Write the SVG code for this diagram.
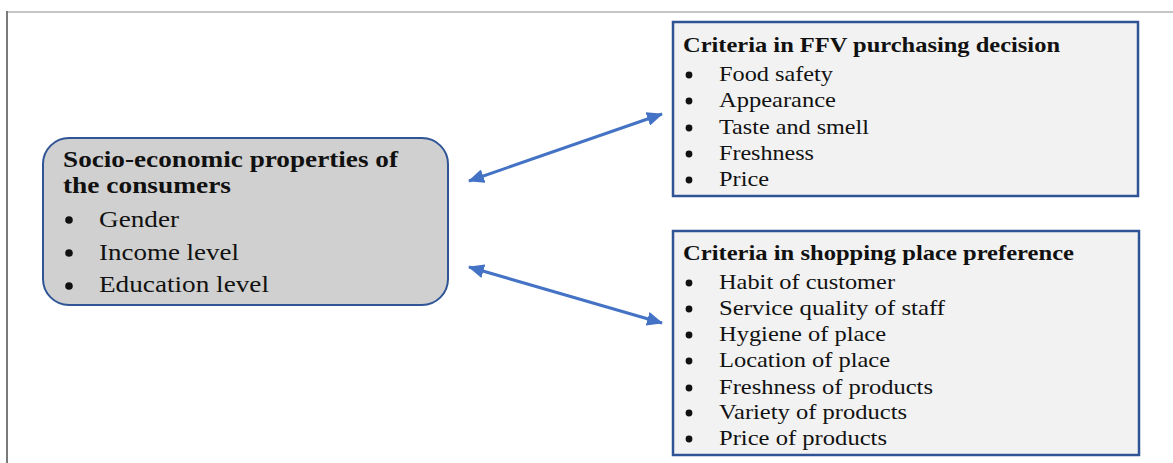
<svg xmlns="http://www.w3.org/2000/svg" width="1173" height="463" viewBox="0 0 1173 463">
  <style>
    .serif { font-family: "Liberation Serif", "Times New Roman", serif; fill: #111; }
    .head { font-weight: bold; }
    .item { font-weight: normal; }
    .bullet { fill: #111; }
    .conn { stroke: #4472c4; stroke-width: 3; fill: none; }
  </style>
  <defs>
    <marker id="arrowHead" markerUnits="userSpaceOnUse" markerWidth="16" markerHeight="14" refX="15" refY="7" orient="auto-start-reverse">
      <path d="M0,0 L16,7 L0,14 z" fill="#4472c4"/>
    </marker>
  </defs>

  <rect width="1173" height="463" fill="#ffffff"/>

  <!-- page frame -->
  <g id="frame">
    <line x1="7" y1="12" x2="1173" y2="12" stroke="#c6c6c6" stroke-width="2"/>
    <line x1="7" y1="11" x2="7" y2="463" stroke="#7a7a7a" stroke-width="2"/>
  </g>

  <!-- connectors -->
  <g id="connectors">
    <line class="conn" x1="469" y1="181" x2="662" y2="114" marker-start="url(#arrowHead)" marker-end="url(#arrowHead)"/>
    <line class="conn" x1="469" y1="267" x2="662" y2="323" marker-start="url(#arrowHead)" marker-end="url(#arrowHead)"/>
  </g>

  <!-- socio-economic properties -->
  <g id="node-socio">
    <rect x="43" y="138" width="405" height="167" rx="26" ry="26" fill="#d0d0d0" stroke="#2f5597" stroke-width="2"/>
    <text class="serif head" x="63" y="167" font-size="24" textLength="335" lengthAdjust="spacingAndGlyphs">Socio-economic properties of</text>
    <text class="serif head" x="63" y="193" font-size="24" textLength="168" lengthAdjust="spacingAndGlyphs">the consumers</text>
    <circle class="bullet" cx="69" cy="220" r="3.8"/>
    <circle class="bullet" cx="69" cy="253" r="3.8"/>
    <circle class="bullet" cx="69" cy="286" r="3.8"/>
    <text class="serif item" x="99" y="227" font-size="23" textLength="80" lengthAdjust="spacingAndGlyphs">Gender</text>
    <text class="serif item" x="99" y="260" font-size="23" textLength="140" lengthAdjust="spacingAndGlyphs">Income level</text>
    <text class="serif item" x="99" y="292" font-size="23" textLength="170" lengthAdjust="spacingAndGlyphs">Education level</text>
  </g>

  <!-- FFV purchasing criteria -->
  <g id="node-ffv">
    <rect x="673" y="22" width="465" height="174" fill="#f2f2f2" stroke="#2f5496" stroke-width="2.5"/>
    <text class="serif head" x="683" y="52" font-size="21" textLength="377" lengthAdjust="spacingAndGlyphs">Criteria in FFV purchasing decision</text>
    <circle class="bullet" cx="689" cy="75" r="3.4"/>
    <circle class="bullet" cx="689" cy="101" r="3.4"/>
    <circle class="bullet" cx="689" cy="128" r="3.4"/>
    <circle class="bullet" cx="689" cy="154" r="3.4"/>
    <circle class="bullet" cx="689" cy="180" r="3.4"/>
    <text class="serif item" x="719" y="81" font-size="21" textLength="114" lengthAdjust="spacingAndGlyphs">Food safety</text>
    <text class="serif item" x="719" y="107" font-size="21" textLength="117" lengthAdjust="spacingAndGlyphs">Appearance</text>
    <text class="serif item" x="719" y="134" font-size="21" textLength="150" lengthAdjust="spacingAndGlyphs">Taste and smell</text>
    <text class="serif item" x="719" y="160" font-size="21" textLength="95" lengthAdjust="spacingAndGlyphs">Freshness</text>
    <text class="serif item" x="719" y="186" font-size="21" textLength="50" lengthAdjust="spacingAndGlyphs">Price</text>
  </g>

  <!-- shopping place criteria -->
  <g id="node-shopping">
    <rect x="673" y="231" width="466" height="224" fill="#f2f2f2" stroke="#2f5496" stroke-width="2.5"/>
    <text class="serif head" x="683" y="260" font-size="21" textLength="391" lengthAdjust="spacingAndGlyphs">Criteria in shopping place preference</text>
    <circle class="bullet" cx="689" cy="283" r="3.4"/>
    <circle class="bullet" cx="689" cy="309" r="3.4"/>
    <circle class="bullet" cx="689" cy="335" r="3.4"/>
    <circle class="bullet" cx="689" cy="361" r="3.4"/>
    <circle class="bullet" cx="689" cy="388" r="3.4"/>
    <circle class="bullet" cx="689" cy="413" r="3.4"/>
    <circle class="bullet" cx="689" cy="439" r="3.4"/>
    <text class="serif item" x="719" y="289" font-size="21" textLength="176" lengthAdjust="spacingAndGlyphs">Habit of customer</text>
    <text class="serif item" x="719" y="315" font-size="21" textLength="226" lengthAdjust="spacingAndGlyphs">Service quality of staff</text>
    <text class="serif item" x="719" y="341" font-size="21" textLength="167" lengthAdjust="spacingAndGlyphs">Hygiene of place</text>
    <text class="serif item" x="719" y="367" font-size="21" textLength="171" lengthAdjust="spacingAndGlyphs">Location of place</text>
    <text class="serif item" x="719" y="394" font-size="21" textLength="214" lengthAdjust="spacingAndGlyphs">Freshness of products</text>
    <text class="serif item" x="719" y="419" font-size="21" textLength="188" lengthAdjust="spacingAndGlyphs">Variety of products</text>
    <text class="serif item" x="719" y="445" font-size="21" textLength="168" lengthAdjust="spacingAndGlyphs">Price of products</text>
  </g>
</svg>
